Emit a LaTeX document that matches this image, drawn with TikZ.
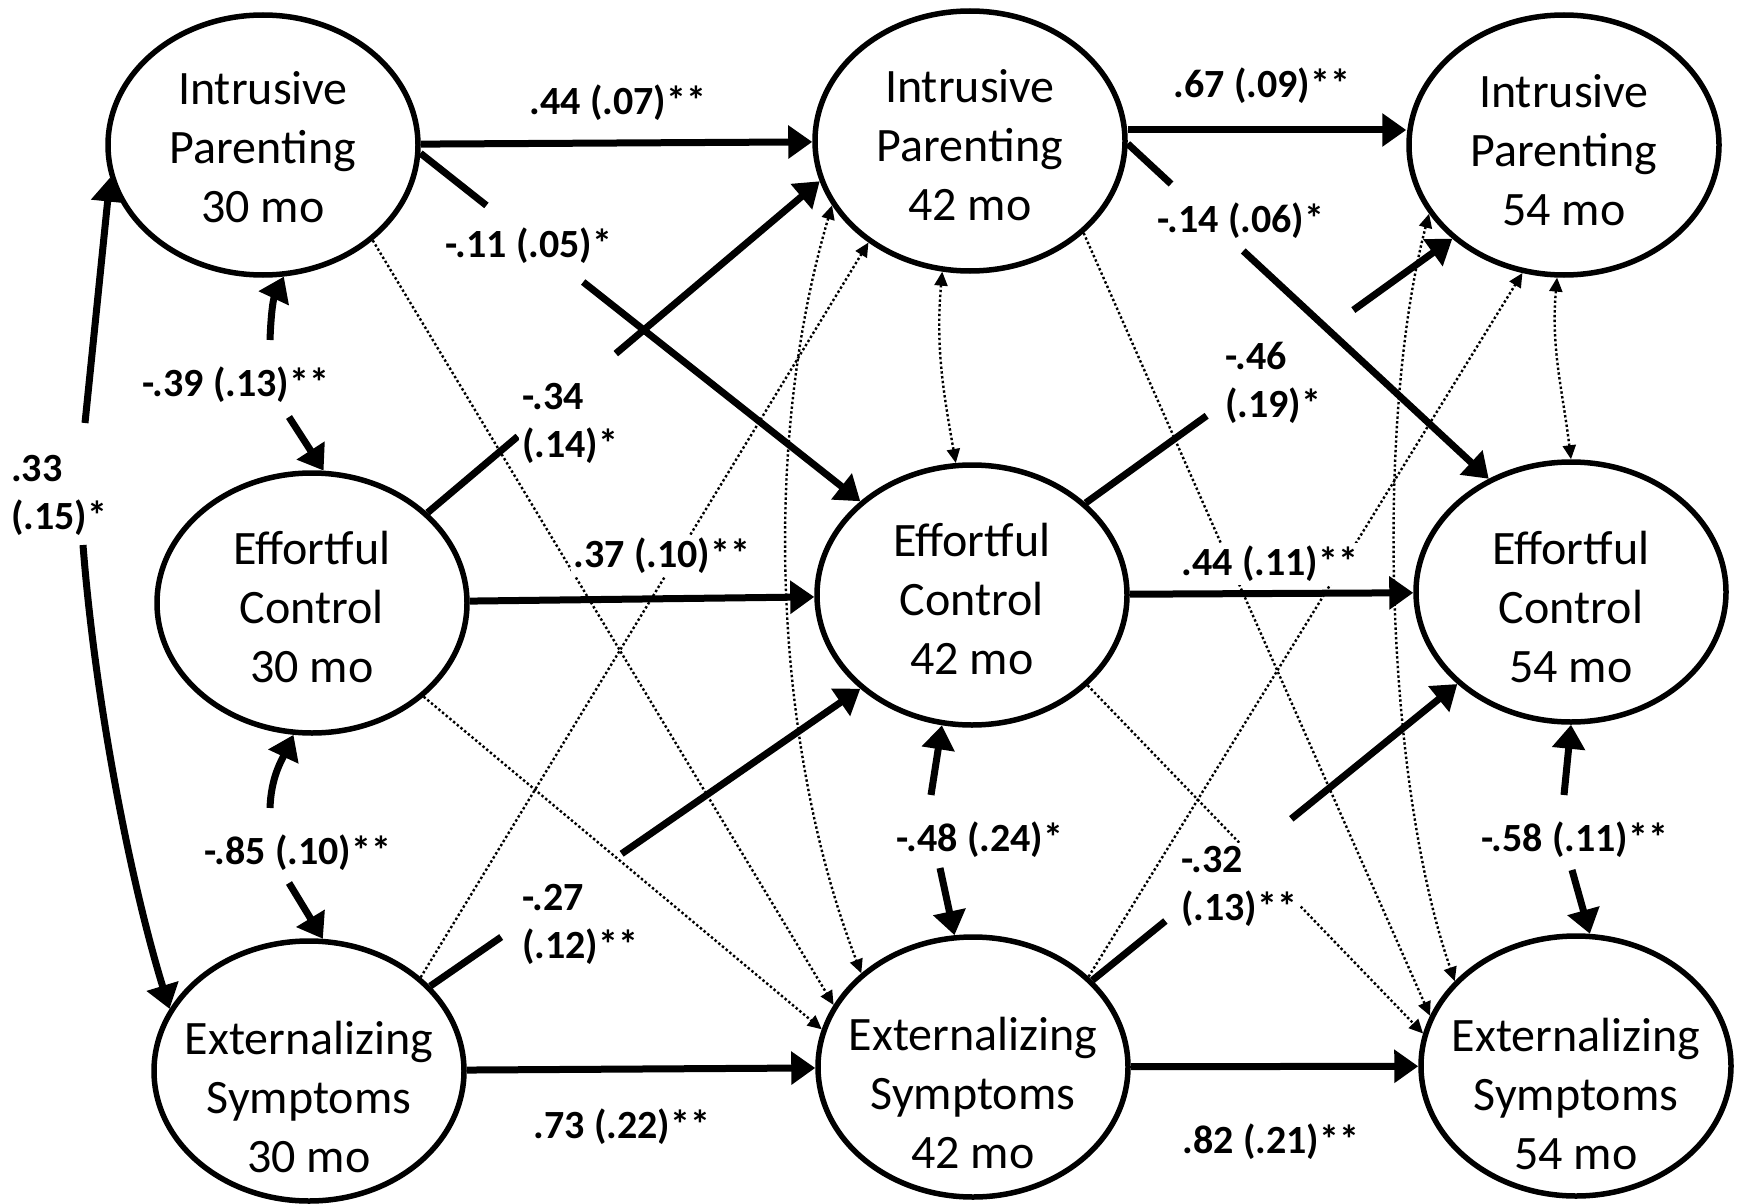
\documentclass[tikz,border=0pt]{standalone}
\usepackage{fontspec}
\setmainfont{Carlito}
\usetikzlibrary{shapes.geometric,arrows.meta,calc}
\begin{document}
\begin{tikzpicture}[x=1pt,y=1pt,
 ell/.style={draw, line width=5.5pt, ellipse, minimum width=310pt, minimum height=260pt, inner sep=0pt},
 ntext/.style={align=center, font=\fontsize{48}{59}\selectfont, inner sep=0pt},
 coef/.style={font=\bfseries\fontsize{40}{48}\selectfont, fill=white, inner sep=3pt},
 coefl/.style={coef, align=left, anchor=west},
 sigline/.style={line width=7pt},
 sig/.style={sigline, -{Triangle[length=24pt,width=32pt]}},
 nsline/.style={line width=2.4pt, dash pattern=on 2.4pt off 2.4pt},
 ns/.style={nsline, -{Triangle[length=14pt,width=13pt]}},
 nsboth/.style={nsline, {Triangle[length=14pt,width=13pt]}-{Triangle[length=14pt,width=13pt]}},
]
\fill[white] (0,0) rectangle (1746,-1204);
\useasboundingbox (0,0) rectangle (1746,-1204);

% ellipses
\node[ell] (ip30) at (263,-145) {};
\node[ell] (ip42) at (970,-141) {};
\node[ell] (ip54) at (1564,-145) {};
\node[ell] (ec30) at (312,-603) {};
\node[ell] (ec42) at (972,-595) {};
\node[ell] (ec54) at (1571,-592) {};
\node[ell] (es30) at (309,-1071) {};
\node[ell] (es42) at (973,-1067) {};
\node[ell] (es54) at (1576,-1066) {};

% texts
\node[ntext] (ip30t) at ([yshift=-2pt]ip30.center) {Intrusive\\Parenting\\30 mo};
\node[ntext] (ip42t) at ([yshift=-4pt]ip42.center) {Intrusive\\Parenting\\42 mo};
\node[ntext] (ip54t) at ([yshift=-5pt]ip54.center) {Intrusive\\Parenting\\54 mo};
\node[ntext] (ec30t) at ([yshift=-4pt]ec30.center) {Effortful\\Control\\30 mo};
\node[ntext] (ec42t) at ([yshift=-4pt]ec42.center) {Effortful\\Control\\42 mo};
\node[ntext] (ec54t) at ([yshift=-15pt]ec54.center) {Effortful\\Control\\54 mo};
\node[ntext] (es30t) at ([yshift=-26pt]es30.center) {Externalizing\\Symptoms\\30 mo};
\node[ntext] (es42t) at ([yshift=-26pt]es42.center) {Externalizing\\Symptoms\\42 mo};
\node[ntext] (es54t) at ([yshift=-28pt]es54.center) {Externalizing\\Symptoms\\54 mo};

% significant horizontal paths
\draw[sig] (ip30) -- (ip42);
\draw[sig] ([yshift=11pt]ip42.east) -- ([yshift=15pt]ip54.west);
\draw[sig] (ec30) -- (ec42);
\draw[sig] (ec42) -- (ec54);
\draw[sig] (es30) -- (es42);
\draw[sig] (es42) -- (es54);

% significant cross paths (broken at labels)
\path (ip30.-3) -- (ec42.140) coordinate[pos=0.15] (g1a) coordinate[pos=0.37] (g1b);
\draw[sigline] (ip30.-3) -- (g1a);
\draw[sig] (g1b) -- (ec42.140);
\path (ip42.-1) -- (ec54.126) coordinate[pos=0.12] (g2a) coordinate[pos=0.32] (g2b);
\draw[sigline] (ip42.-1) -- (g2a);
\draw[sig] (g2b) -- (ec54.126);
\path (ec30.38) -- (ip42.195) coordinate[pos=0.23] (g3a) coordinate[pos=0.48] (g3b);
\draw[sigline] (ec30.38) -- (g3a);
\draw[sig] (g3b) -- (ip42.195);
\path (ec42.39) -- (ip54.220) coordinate[pos=0.33] (g4a) coordinate[pos=0.73] (g4b);
\draw[sigline] (ec42.39) -- (g4a);
\draw[sig] (g4b) -- (ip54.220);
\path (es30.35) -- (ec42.220) coordinate[pos=0.165] (g5a) coordinate[pos=0.445] (g5b);
\draw[sigline] (es30.35) -- (g5a);
\draw[sig] (g5b) -- (ec42.220);
\path (es42.36) -- (ec54.219) coordinate[pos=0.20] (g6a) coordinate[pos=0.545] (g6b);
\draw[sigline] (es42.36) -- (g6a);
\draw[sig] (g6b) -- (ec54.219);

% correlations (thick, broken at labels)
\coordinate (k1a) at (270,-340); \coordinate (k1b) at (289,-417);
\draw[sig] (k1a) to[out=88,in=245] (ip30.279);
\draw[sig] (k1b) -- (ec30.85);
\coordinate (k2a) at (270,-808); \coordinate (k2b) at (289,-883);
\draw[sig] (k2a) to[out=88,in=245] (ec30.262);
\draw[sig] (k2b) -- (es30.84);
\coordinate (k3a) at (931,-795); \coordinate (k3b) at (940,-868);
\draw[sig] (k3a) -- (ec42.257);
\draw[sig] (k3b) -- (es42.98);
\coordinate (k4a) at (1564,-795); \coordinate (k4b) at (1572,-870);
\draw[sig] (k4a) -- (ec54.270);
\draw[sig] (k4b) -- (es54.84);
\coordinate (k5a) at (85,-423); \coordinate (k5b) at (83,-545);
\draw[sig] (k5a) -- (ip30.192);
\draw[sig] (k5b) .. controls (95,-700) and (130,-880) .. (es30.156);

% non-significant paths
\draw[ns] (ip30.-41) -- (es42.156);
\draw[ns] (ec30.-40) -- (es42.166);
\draw[ns] (es30.40) -- (ip42.225);
\draw[ns] (ip42.-39) -- (es54.161);
\draw[ns] (ec42.-38) -- (es54.168);
\draw[ns] (es42.38) -- (ip54.252);
\draw[nsboth] (ip42.258) to[out=265,in=100] (ec42.97);
\draw[nsboth] (ip54.267) to[out=265,in=97] (ec54.90);
\draw[nsboth] (ip42.205) .. controls (760,-450) and (775,-750) .. (es42.140);
\draw[nsboth] (ip54.207) .. controls (1375,-420) and (1385,-780) .. (es54.145);

% coefficient labels
\node[coef] (l44a) at (618,-103) {.44 (.07)**};
\node[coef] (l11) at (529,-246) {-.11 (.05)*};
\node[coef] (l67) at (1262,-86) {.67 (.09)**};
\node[coef] (l14) at (1241,-221) {-.14 (.06)*};
\node[coef] (l39) at (236,-385) {-.39 (.13)**};
\node[coefl] (l33) at (8,-495) {.33\\(.15)*};
\node[coefl] (l34) at (519,-423) {-.34\\(.14)*};
\node[coef] (l37) at (662,-556) {.37 (.10)**};
\node[coefl] (l46) at (1222,-383) {-.46\\(.19)*};
\node[coef] (l44b) at (1270,-564) {.44 (.11)**};
\node[coef] (l85) at (298,-853) {-.85 (.10)**};
\node[coef] (l48) at (980,-840) {-.48 (.24)*};
\node[coef] (l58) at (1575,-840) {-.58 (.11)**};
\node[coefl] (l27) at (519,-924) {-.27\\(.12)**};
\node[coefl] (l32) at (1178,-886) {-.32\\(.13)**};
\node[coef] (l73) at (622,-1127) {.73 (.22)**};
\node[coef] (l82) at (1271,-1142) {.82 (.21)**};
\end{tikzpicture}
\end{document}
